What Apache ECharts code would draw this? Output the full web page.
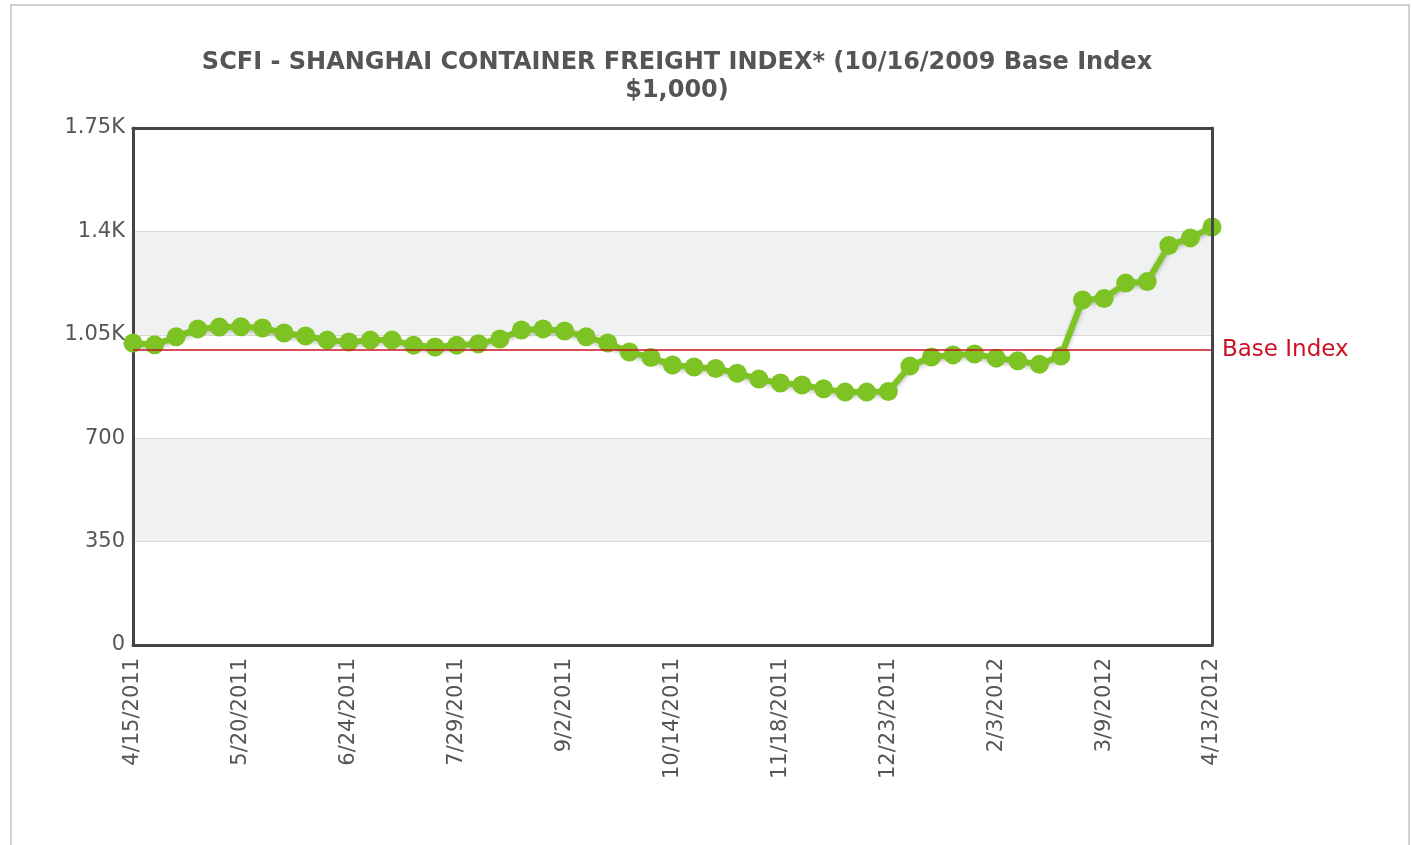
<!DOCTYPE html>
<html>
<head>
<meta charset="utf-8">
<style>html,body{margin:0;padding:0;background:#fff;}#c{width:1412px;height:845px;}</style>
<script src="https://cdn.jsdelivr.net/npm/echarts@6/dist/echarts.min.js"></script>
</head>
<body>
<div id="c"></div>
<script>
const categories = ["4/15/2011","4/22/2011","4/29/2011","5/6/2011","5/13/2011","5/20/2011","5/27/2011","6/3/2011","6/10/2011","6/17/2011","6/24/2011","7/1/2011","7/8/2011","7/15/2011","7/22/2011","7/29/2011","8/5/2011","8/12/2011","8/19/2011","8/26/2011","9/2/2011","9/9/2011","9/16/2011","9/23/2011","9/30/2011","10/14/2011","10/21/2011","10/28/2011","11/4/2011","11/11/2011","11/18/2011","11/25/2011","12/2/2011","12/9/2011","12/16/2011","12/23/2011","12/30/2011","1/6/2012","1/13/2012","1/20/2012","2/3/2012","2/10/2012","2/17/2012","2/24/2012","3/2/2012","3/9/2012","3/16/2012","3/23/2012","3/30/2012","4/6/2012","4/13/2012"];
const scfiValues = [1022,1016,1043,1070,1076,1077,1073,1056,1046,1032,1026,1032,1032,1015,1009,1015,1020,1036,1066,1070,1063,1043,1022,992,973,948,941,936,920,900,887,880,867,856,856,858,944,975,982,985,971,962,950,978,1168,1173,1225,1230,1352,1378,1415];
const yTickLabels = {0:"0",350:"350",700:"700",1050:"1.05K",1400:"1.4K",1750:"1.75K"};
const baseIndex = 1000;
const titleText = "SCFI - SHANGHAI CONTAINER FREIGHT INDEX* (10/16/2009 Base Index\n$1,000)";

const frameLine = {show:true,onZero:false,lineStyle:{color:'#454545',width:3}};
const chart = echarts.init(document.getElementById('c'));
chart.setOption({
  animation:false,
  backgroundColor:'#fff',
  graphic:[{type:'rect',shape:{x:11,y:5,width:1398,height:845},style:{fill:'none',stroke:'#cfcfcf',lineWidth:2},silent:true}],
  title:{text:titleText,left:672,top:44,textAlign:'center',
    textStyle:{fontFamily:'DejaVu Sans',fontWeight:'bold',fontSize:24,color:'#555',lineHeight:28}},
  grid:{left:133,right:200,top:128,bottom:200,show:false},
  xAxis:[{type:'category',data:categories,boundaryGap:false,
    axisLine:frameLine,axisTick:{show:false},
    axisLabel:{interval:4,rotate:90,margin:13,fontFamily:'DejaVu Sans',fontSize:21,color:'#555'},
    splitLine:{show:false},z:5},
    {type:'category',data:categories,boundaryGap:false,position:'top',
    axisLine:frameLine,axisTick:{show:false},axisLabel:{show:false},splitLine:{show:false},z:5}],
  yAxis:[{type:'value',min:0,max:1750,interval:350,
    axisLine:frameLine,axisTick:{show:false},
    axisLabel:{margin:8,fontFamily:'DejaVu Sans',fontSize:21,color:'#555',formatter:v=>yTickLabels[v]},
    splitLine:{show:true,lineStyle:{color:'#d8d8d8',width:1}},
    splitArea:{show:true,areaStyle:{color:['#ffffff','#f0f1f1']}}},
    {type:'value',min:0,max:1750,interval:350,position:'right',
    axisLine:frameLine,axisTick:{show:false},axisLabel:{show:false},splitLine:{show:false},splitArea:{show:false},z:5}],
  series:[{type:'line',data:scfiValues,symbol:'circle',symbolSize:19,showAllSymbol:true,
    lineStyle:{color:'#7dc323',width:6,shadowColor:'rgba(0,0,0,0.25)',shadowBlur:4,shadowOffsetY:2},
    itemStyle:{color:'#7dc323'},
    markLine:{silent:true,symbol:'none',data:[{yAxis:baseIndex}],
      lineStyle:{color:'#cc1122',width:1.5,type:'solid'},
      label:{position:'end',formatter:'Base Index',color:'#cc1122',fontFamily:'DejaVu Sans',fontSize:23,distance:10}},
    z:3}]
});
</script>
</body>
</html>
